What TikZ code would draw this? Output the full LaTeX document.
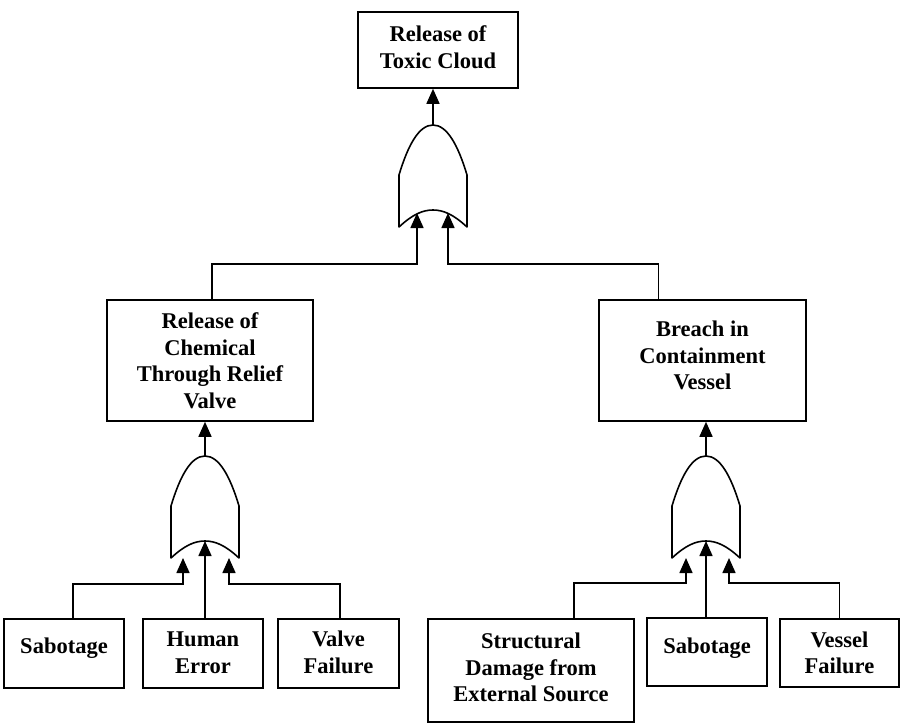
\documentclass[tikz,border=0pt]{standalone}
\usepackage{fontspec}
\setmainfont{Liberation Serif}
\usetikzlibrary{arrows.meta}
\newcommand\orgate[3]{%
  \draw[gateline] (#2-34,#3+50) .. controls (#2-25,#3+20) and (#2-14,#3) .. (#2,#3)
    .. controls (#2+14,#3) and (#2+25,#3+20) .. (#2+34,#3+50) -- (#2+34,#3+102)
    .. controls (#2+20,#3+89) and (#2+10,#3+85) .. (#2,#3+85)
    .. controls (#2-10,#3+85) and (#2-20,#3+89) .. (#2-34,#3+102) -- cycle;
  \coordinate (#1-out) at (#2,#3);
  \coordinate (#1-mid) at (#2,#3+85);
}
\begin{document}
\begin{tikzpicture}[x=1pt,y=-1pt,
  box/.style={draw, line width=1.6pt, inner sep=0pt},
  txt/.style={inner sep=0pt, align=center,
    font=\bfseries\fontsize{22.5}{26.5}\selectfont},
  wire/.style={line width=1.6pt},
  arr/.style={wire, -{Triangle[length=15pt,width=13pt]}},
  gateline/.style={line width=1.6pt, line join=round}]
\useasboundingbox (0,0) rectangle (900,726);

% event boxes
\node[box, minimum width=160pt, minimum height=76pt,
  label={[txt, yshift=3pt]center:{Release of\\Toxic Cloud}}] (top) at (438,50) {};
\node[box, minimum width=206pt, minimum height=121pt,
  label={[txt]center:{Release of\\Chemical\\Through Relief\\Valve}}] (rv) at (210,360.5) {};
\node[box, minimum width=207pt, minimum height=121pt,
  label={[txt, yshift=5pt]center:{Breach in\\Containment\\Vessel}}] (bc) at (702.5,360.5) {};
\node[box, minimum width=120pt, minimum height=69pt,
  label={[txt, yshift=5pt]center:{Sabotage}}] (sab1) at (64,653.5) {};
\node[box, minimum width=120pt, minimum height=69pt,
  label={[txt, yshift=1pt]center:{Human\\Error}}] (he) at (203,653.5) {};
\node[box, minimum width=121pt, minimum height=69pt,
  label={[txt, yshift=1pt]center:{Valve\\Failure}}] (vf) at (338.5,653.5) {};
\node[box, minimum width=206pt, minimum height=103pt,
  label={[txt, yshift=3pt]center:{Structural\\Damage from\\External Source}}] (sd) at (531,670.5) {};
\node[box, minimum width=120pt, minimum height=68pt,
  label={[txt, yshift=4pt]center:{Sabotage}}] (sab2) at (707,652) {};
\node[box, minimum width=119pt, minimum height=68pt,
  label={[txt]center:{Vessel\\Failure}}] (vsf) at (839.5,653) {};

% OR gates
\orgate{g0}{433}{125}
\orgate{g1}{205}{456}
\orgate{g2}{706}{456}

\coordinate (g0-in1) at (417,213);
\coordinate (g0-in2) at (448,213);
\coordinate (g1-in1) at (183,558);
\coordinate (g1-in3) at (229,558);
\coordinate (g2-in1) at (686,558);
\coordinate (g2-in3) at (729,558);

% gate outputs
\draw[arr] (g0-out) -- (g0-out |- top.south);
\draw[arr] (g1-out) -- (g1-out |- rv.south);
\draw[arr] (g2-out) -- (g2-out |- bc.south);

% top gate inputs
\draw[arr] ([xshift=2pt]rv.north) -- ++(0,-35) -| (g0-in1);
\draw[arr] ([xshift=-44pt]bc.north) -- ++(0,-35) -| (g0-in2);

% left gate inputs
\draw[arr] ([xshift=9pt]sab1.north) -- ++(0,-34) -| (g1-in1);
\draw[arr] (g1-mid |- he.north) -- (g1-mid);
\draw[arr] ([xshift=1.5pt]vf.north) -- ++(0,-34) -| (g1-in3);

% right gate inputs
\draw[arr] ([xshift=43pt]sd.north) -- ++(0,-35) -| (g2-in1);
\draw[arr] (g2-mid |- sab2.north) -- (g2-mid);
\draw[arr] (vsf.north) -- ++(0,-35) -| (g2-in3);
\end{tikzpicture}
\end{document}
